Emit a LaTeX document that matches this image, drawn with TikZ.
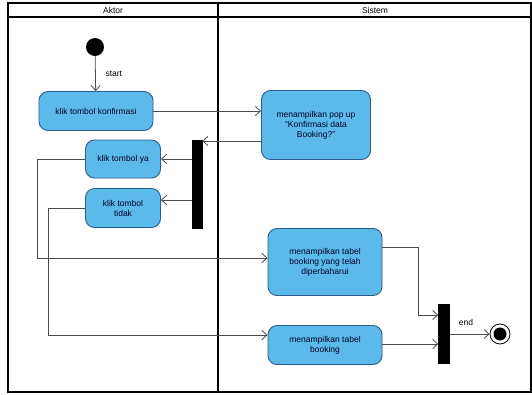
\documentclass[tikz,border=0pt]{standalone}
\usepackage{fontspec}
\setmainfont{Liberation Sans}
\usetikzlibrary{arrows.meta}
\definecolor{actfill}{RGB}{92,186,234}
\definecolor{actline}{RGB}{40,95,140}
\tikzset{
  act/.style={draw=actline, line width=0.9pt, fill=actfill, rounded corners=9pt, align=center, font=\fontsize{8.5}{10}\selectfont, text=black!85!blue, inner sep=2pt},
  flow/.style={draw=black!70, line width=0.8pt, -{Straight Barb[length=5pt,width=9pt]}},
  bar/.style={fill=black, draw=black},
  lbl/.style={font=\fontsize{8.5}{9}\selectfont}
}
\begin{document}
\begin{tikzpicture}[x=1pt,y=-1pt]
\useasboundingbox (0,0) rectangle (532,394);
\fill[white] (0,0) rectangle (532,394);
% swimlane frame
\draw[line width=1.2pt] (8,3) rectangle (531,392);
\draw[line width=1.2pt] (8,17) -- (531,17);
\draw[line width=1.4pt] (218,3) -- (218,392);
\node[lbl] (hA) at (113,10) {Aktor};
\node[lbl] (hS) at (375,10) {Sistem};
% nodes
\node[circle, fill=black, minimum size=18pt, inner sep=0pt] (start) at (95,47) {};
\node[act, minimum width=114pt, minimum height=39pt] (konf) at (96,111) {klik tombol konfirmasi};
\node[act, minimum width=109pt, minimum height=69pt] (pop) at (316,125) {menampilkan pop up\\"Konfirmasi data\\Booking?"};
\node[bar, minimum width=10pt, minimum height=88pt, inner sep=0pt] (fork) at (197,184) {};
\node[act, minimum width=75pt, minimum height=38pt] (ya) at (123,159) {klik tombol ya};
\node[act, minimum width=75pt, minimum height=39pt] (tidak) at (123,208) {klik tombol\\tidak};
\node[act, minimum width=114pt, minimum height=67pt] (tabel1) at (325,262) {menampilkan tabel\\booking yang telah\\diperbaharui};
\node[act, minimum width=114pt, minimum height=39pt] (tabel2) at (325,345) {menampilkan tabel\\booking};
\node[bar, minimum width=11pt, minimum height=59pt, inner sep=0pt] (join) at (444,334) {};
\node[circle, draw=black, line width=0.8pt, minimum size=20pt, inner sep=0pt] (endc) at (500,334) {};
\fill[black] (endc) circle (6.5pt);
% labels
\node[lbl, anchor=west] (startlbl) at (102,74) {start};
\node[lbl] (endlbl) at (466,322) {end};
% connectors
\draw[flow] (start) -- (konf);
\draw[flow] (konf.east) -- (pop.west |- konf.east);
\draw[flow] (pop.west |- 0,141) -- (fork.east |- 0,141);
\draw[flow] (fork.west |- ya) -- (ya);
\draw[flow] (fork.west |- 0,200) -- (tidak.east |- 0,200);
\draw[flow] (ya.west) -- (37,159) -- (37,258) -- (tabel1.west |- 0,258);
\draw[flow] (tidak.west) -- (48,208) -- (48,335) -- (tabel2.west |- 0,335);
\draw[flow] (tabel1.east |- 0,247) -- (418,247) -- (418,315) -- (join.west |- 0,315);
\draw[flow] (tabel2.east |- 0,344) -- (join.west |- 0,344);
\draw[flow] (join.east |- endc) -- (endc);
\end{tikzpicture}
\end{document}
